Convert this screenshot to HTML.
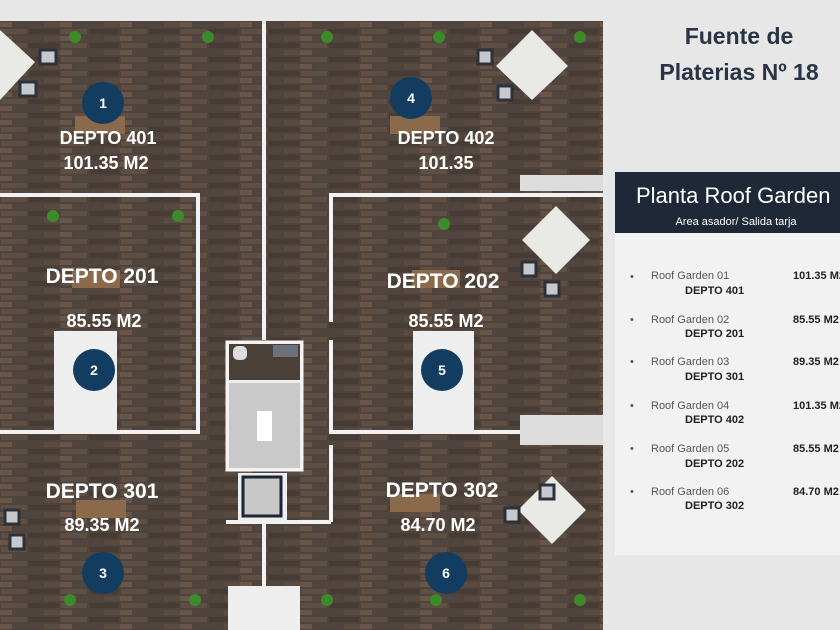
<!DOCTYPE html>
<html><head><meta charset="utf-8"><style>
html,body{margin:0;padding:0;width:840px;height:630px;overflow:hidden;background:#e7e7e7;font-family:"Liberation Sans",sans-serif}
</style></head><body>
<svg width="840" height="630" viewBox="0 0 840 630" xmlns="http://www.w3.org/2000/svg" style="position:absolute;left:0;top:0">
<defs>
<pattern id="brick" width="60" height="14" patternUnits="userSpaceOnUse">
<rect width="60" height="14" fill="#4f433b"/>
<rect x="1" y="1" width="26" height="5" fill="#5e4f44"/>
<rect x="29" y="1" width="30" height="5" fill="#463b35"/>
<rect x="0" y="8" width="12" height="5" fill="#6a5648"/>
<rect x="14" y="8" width="28" height="5" fill="#51463f"/>
<rect x="44" y="8" width="16" height="5" fill="#5a4b40"/>
</pattern>
</defs>
<rect x="0" y="21" width="603" height="609" fill="url(#brick)"/>
<g stroke="#f2f2f2" stroke-width="4" fill="none">
<line x1="264" y1="21" x2="264" y2="340"/>
<line x1="264" y1="520" x2="264" y2="588"/>
<polyline points="0,195 198,195 198,432 0,432"/>
<polyline points="603,195 331,195 331,322"/>
<polyline points="331,340 331,432 603,432"/>
<line x1="331" y1="445" x2="331" y2="522"/>
<line x1="226" y1="522" x2="331" y2="522"/>
</g>
<!-- stair core -->
<rect x="227" y="342" width="75" height="128" fill="#eee" stroke="#f4f4f4" stroke-width="3"/>
<rect x="229" y="344" width="71" height="36" fill="#4a4038"/>
<rect x="233" y="346" width="14" height="14" fill="#ddd" rx="5"/>
<rect x="273" y="345" width="25" height="12" fill="#6c727a"/>
<rect x="229" y="383" width="71" height="85" fill="#c9c9c9"/>
<rect x="257" y="411" width="15" height="30" fill="#fff"/>
<rect x="238" y="473" width="49" height="48" fill="#eee"/>
<rect x="243" y="477" width="38" height="39" fill="#c8c8c8" stroke="#1b2533" stroke-width="3"/>
<rect x="228" y="586" width="72" height="44" fill="#eeeeee"/>
<!-- white panels -->
<rect x="54" y="331" width="63" height="102" fill="#eeeeee"/>
<rect x="413" y="331" width="61" height="102" fill="#eeeeee"/>
<rect x="520" y="175" width="83" height="16" fill="#ddd"/>
<rect x="520" y="415" width="83" height="30" fill="#ddd"/>
<!-- umbrellas -->
<g fill="#e9e9e6">
<polygon points="0,30 35,62 0,100"/>
<polygon points="532,30 568,66 532,100 496,66"/>
<polygon points="556,206 590,240 556,274 522,240"/>
<polygon points="552,476 586,510 552,544 518,510"/>
</g>
<g fill="#c5c9ce" stroke="#2c323a" stroke-width="3">
<rect x="40" y="50" width="16" height="14"/><rect x="20" y="82" width="16" height="14"/>
<rect x="478" y="50" width="14" height="14"/><rect x="498" y="86" width="14" height="14"/>
<rect x="522" y="262" width="14" height="14"/><rect x="545" y="282" width="14" height="14"/>
<rect x="505" y="508" width="14" height="14"/><rect x="540" y="485" width="14" height="14"/>
<rect x="5" y="510" width="14" height="14"/><rect x="10" y="535" width="14" height="14"/>
</g>
<!-- tables -->
<g fill="#8a6a4a">
<rect x="75" y="116" width="50" height="18"/><rect x="390" y="116" width="50" height="18"/>
<rect x="72" y="270" width="48" height="18"/><rect x="412" y="270" width="48" height="18"/>
<rect x="76" y="500" width="50" height="18"/><rect x="390" y="494" width="50" height="18"/>
</g>
<!-- plants -->
<g fill="#3d8a2a">
<circle cx="75" cy="37" r="6"/><circle cx="208" cy="37" r="6"/><circle cx="327" cy="37" r="6"/><circle cx="439" cy="37" r="6"/><circle cx="580" cy="37" r="6"/>
<circle cx="53" cy="216" r="6"/><circle cx="178" cy="216" r="6"/><circle cx="444" cy="224" r="6"/>
<circle cx="70" cy="600" r="6"/><circle cx="195" cy="600" r="6"/><circle cx="327" cy="600" r="6"/><circle cx="436" cy="600" r="6"/><circle cx="580" cy="600" r="6"/>
</g>
<!-- badges -->
<g fill="#123c60">
<circle cx="103" cy="103" r="21"/><circle cx="411" cy="98" r="21"/>
<circle cx="94" cy="370" r="21"/><circle cx="442" cy="370" r="21"/>
<circle cx="103" cy="573" r="21"/><circle cx="446" cy="573" r="21"/>
</g>
<g fill="#fff" font-family="Liberation Sans, sans-serif" font-weight="bold" text-anchor="middle">
<g font-size="14"><text x="103" y="108">1</text><text x="411" y="103">4</text><text x="94" y="375">2</text><text x="442" y="375">5</text><text x="103" y="578">3</text><text x="446" y="578">6</text></g>
<g font-size="18">
<text x="108" y="144">DEPTO 401</text><text x="106" y="169">101.35 M2</text>
<text x="446" y="144">DEPTO 402</text><text x="446" y="169">101.35</text>
</g>
<g font-size="21">
<text x="102" y="283">DEPTO 201</text><text x="443" y="288">DEPTO 202</text>
<text x="102" y="498">DEPTO 301</text><text x="442" y="497">DEPTO 302</text>
</g>
<g font-size="18">
<text x="104" y="327">85.55 M2</text><text x="446" y="327">85.55 M2</text>
<text x="102" y="531">89.35 M2</text><text x="438" y="531">84.70 M2</text>
</g>
</g>
<!-- right panel -->
<g fill="#2a3444" font-family="Liberation Sans, sans-serif" font-weight="bold" font-size="23" text-anchor="middle">
<text x="739" y="44">Fuente de</text>
<text x="739" y="80">Platerias Nº 18</text>
</g>
<rect x="615" y="172" width="225" height="61" fill="#1e2836"/>
<rect x="615" y="233" width="225" height="322" fill="#f2f2f2"/>
<text x="636" y="203" fill="#fff" font-size="22" font-family="Liberation Sans, sans-serif">Planta Roof Garden</text>
<text x="736" y="225" fill="#fff" font-size="11" text-anchor="middle" font-family="Liberation Sans, sans-serif">Area asador/ Salida tarja</text>
<g font-family="Liberation Sans, sans-serif" font-size="11">
<g fill="#555"><text x="630" y="280">•</text><text x="630" y="323">•</text><text x="630" y="365">•</text><text x="630" y="409">•</text><text x="630" y="452">•</text><text x="630" y="495">•</text></g>
<g fill="#555"><text x="651" y="279">Roof Garden 01</text><text x="651" y="323">Roof Garden 02</text><text x="651" y="365">Roof Garden 03</text><text x="651" y="409">Roof Garden 04</text><text x="651" y="452">Roof Garden 05</text><text x="651" y="495">Roof Garden 06</text></g>
<g fill="#222" font-weight="bold"><text x="685" y="294">DEPTO 401</text><text x="685" y="337">DEPTO 201</text><text x="685" y="380">DEPTO 301</text><text x="685" y="423">DEPTO 402</text><text x="685" y="467">DEPTO 202</text><text x="685" y="509">DEPTO 302</text></g>
<g fill="#222" font-weight="bold"><text x="793" y="279">101.35 M2</text><text x="793" y="323">85.55 M2</text><text x="793" y="365">89.35 M2</text><text x="793" y="409">101.35 M2</text><text x="793" y="452">85.55 M2</text><text x="793" y="495">84.70 M2</text></g>
</g>
</svg>
</body></html>
